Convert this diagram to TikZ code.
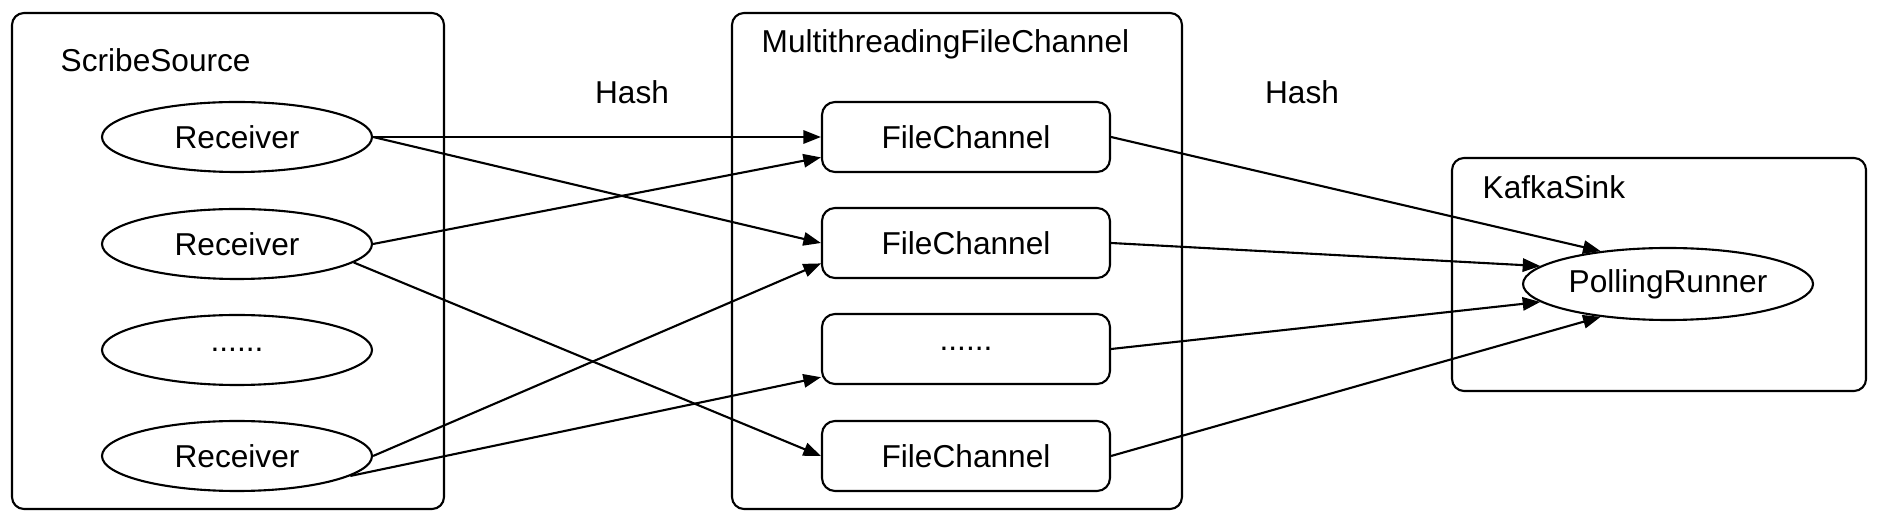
\documentclass[tikz,border=0pt]{standalone}
\usepackage{fontspec}
\setmainfont{Liberation Sans}
\usetikzlibrary{arrows.meta,shapes.geometric}

\begin{document}
\begin{tikzpicture}[x=1cm,y=1cm,
  font=\fontsize{9}{10.5}\selectfont,
  group/.style={draw, line width=0.6pt, rounded corners=0.12cm},
  title/.style={anchor=base west, inner sep=0pt},
  recv/.style={draw, ellipse, line width=0.6pt, inner sep=0pt, minimum width=2.7cm, minimum height=0.7cm},
  chan/.style={draw, rectangle, line width=0.6pt, rounded corners=0.13cm, inner sep=0pt, minimum width=2.88cm, minimum height=0.7cm},
  flow/.style={line width=0.6pt, -{Triangle[length=5pt,width=3.8pt]}}]

\useasboundingbox (0,0) rectangle (18.8,-5.32);

\draw [group] (0.12,-0.13) rectangle (4.44,-5.09);
\draw [group] (7.32,-0.13) rectangle (11.82,-5.09);
\draw [group] (14.52,-1.58) rectangle (18.66,-3.91);

\node [title] (srcname) at (0.60,-0.72) {ScribeSource};
\node [title] (chname) at (7.61,-0.53) {MultithreadingFileChannel};
\node [title] (sinkname) at (14.82,-1.99) {KafkaSink};
\node [anchor=base, inner sep=0pt] (hashone) at (6.32,-1.04) {Hash};
\node [anchor=base, inner sep=0pt] (hashtwo) at (13.02,-1.04) {Hash};

\node [recv] (r1) at (2.37,-1.37) {Receiver};
\node [recv] (r2) at (2.37,-2.44) {Receiver};
\node [recv] (r3) at (2.37,-3.50) {......};
\node [recv] (r4) at (2.37,-4.56) {Receiver};

\node [chan] (fc1) at (9.66,-1.37) {FileChannel};
\node [chan] (fc2) at (9.66,-2.43) {FileChannel};
\node [chan] (fc3) at (9.66,-3.49) {......};
\node [chan] (fc4) at (9.66,-4.56) {FileChannel};

\node [recv, minimum width=2.9cm, minimum height=0.72cm] (pr) at (16.68,-2.84) {PollingRunner};

\draw [flow] (r1.east) -- (fc1.west);
\draw [flow] (r1.east) -- (fc2.west);
\draw [flow] (r2.east) -- (fc1.188);
\draw [flow] (r2.351) -- (fc4.west);
\draw [flow] (r4.east) -- (fc2.188);
\draw [flow] (r4.350) -- (fc3.191);

\draw [flow] (fc1.east) -- (pr.154);
\draw [flow] (fc2.east) -- (pr.172);
\draw [flow] (fc3.east) -- (pr.188);
\draw [flow] (fc4.east) -- (pr.206);
\end{tikzpicture}
\end{document}
